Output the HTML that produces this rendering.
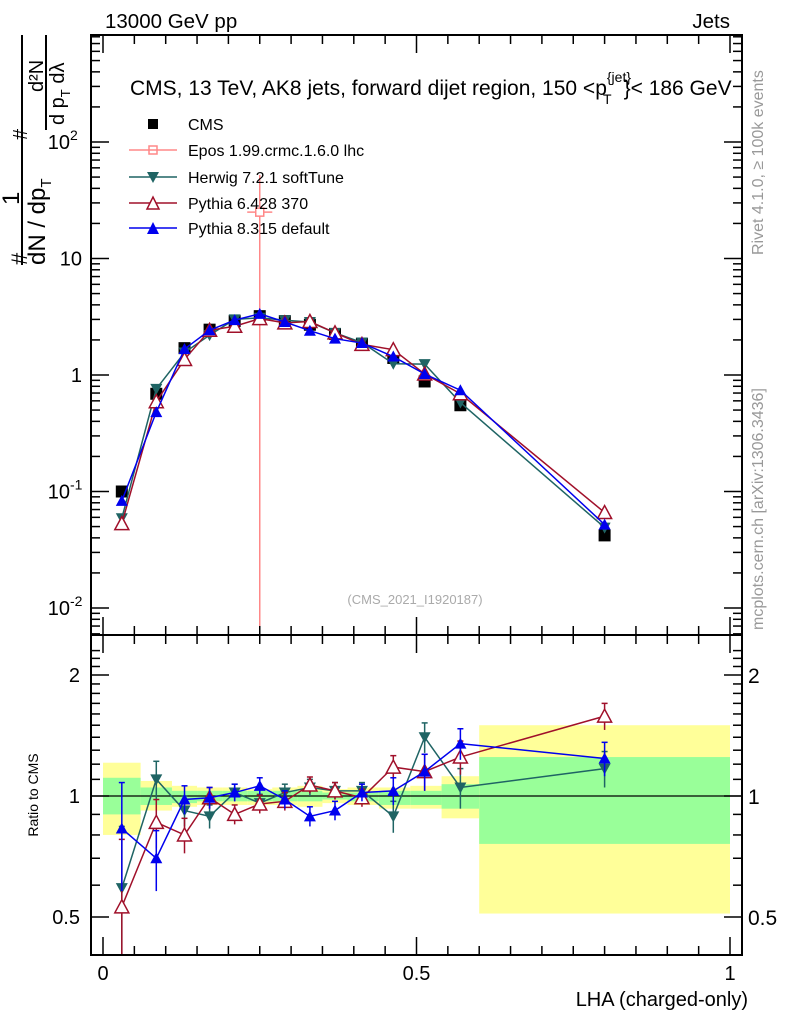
<!DOCTYPE html>
<html><head><meta charset="utf-8"><style>
body{margin:0;background:#fff}
svg text{font-family:"Liberation Sans",sans-serif}
</style></head><body>
<svg id="chart" width="786" height="1024" xmlns="http://www.w3.org/2000/svg">
<g id="bands"></g>
<g id="marks"></g>
<g id="axes"></g>
<text x="105" y="28" font-size="20.5">13000 GeV pp</text>
<text x="730" y="28" font-size="20.5" text-anchor="end">Jets</text>
<text x="130" y="95" font-size="21">CMS, 13 TeV, AK8 jets, forward dijet region, 150 &lt;p<tspan font-size="14" dy="-13">{jet}</tspan><tspan font-size="14" dx="-28" dy="22">T</tspan><tspan dy="-9" dx="12">}&lt; 186 GeV</tspan></text>
<text transform="translate(763,255) rotate(-90)" font-size="16" fill="#999">Rivet 4.1.0, ≥ 100k events</text>
<text transform="translate(763,630) rotate(-90)" font-size="16" fill="#999">mcplots.cern.ch [arXiv:1306.3436]</text>
<text x="415" y="604" font-size="13" fill="#aaa" text-anchor="middle">(CMS_2021_I1920187)</text>
<text x="748" y="1006" font-size="20" text-anchor="end">LHA (charged-only)</text>
<text transform="translate(38,795) rotate(-90)" font-size="14" text-anchor="middle">Ratio to CMS</text>
<g font-size="24">
<line x1="22" y1="35" x2="22" y2="265" stroke="#000" stroke-width="2"/>
<text transform="translate(27,265) rotate(-90)" font-size="22">#</text>
<text transform="translate(19,205) rotate(-90)">1</text>
<text transform="translate(45,265) rotate(-90)">dN / dp<tspan font-size="15" dy="6">T</tspan></text>
<text transform="translate(27,140) rotate(-90)" font-size="20">#</text>
<line x1="46" y1="35" x2="46" y2="130" stroke="#000" stroke-width="2"/>
<text transform="translate(43,92) rotate(-90)" font-size="20">d²N</text>
<text transform="translate(64,125) rotate(-90)" font-size="20">d p<tspan font-size="13" dy="6">T</tspan><tspan dy="-6"> dλ</tspan></text>
</g>
<g font-size="16">
<rect x="148" y="119" width="10" height="10" fill="#000"/>
<text x="188" y="130">CMS</text>
<line x1="129" y1="150" x2="177" y2="150" stroke="#f88" stroke-width="1.5"/>
<rect x="149" y="146" width="8" height="8" fill="none" stroke="#f88" stroke-width="1.5"/>
<text x="188" y="156">Epos 1.99.crmc.1.6.0 lhc</text>
<line x1="129" y1="177" x2="177" y2="177" stroke="#1f6464" stroke-width="1.5"/>
<path d="M147,172 L159,172 L153,183 Z" fill="#1f6464"/>
<text x="188" y="183">Herwig 7.2.1 softTune</text>
<line x1="129" y1="203" x2="177" y2="203" stroke="#a0102a" stroke-width="1.5"/>
<path d="M147,209 L159,209 L153,197 Z" fill="#fff" stroke="#a0102a" stroke-width="1.5"/>
<text x="188" y="209">Pythia 6.428 370</text>
<line x1="129" y1="228" x2="177" y2="228" stroke="#0000ee" stroke-width="1.5"/>
<path d="M147,234 L159,234 L153,222 Z" fill="#0000ee"/>
<text x="188" y="234">Pythia 8.315 default</text>
</g>
</svg>
<script>
const lhaX = [0.03,0.085,0.13,0.17,0.21,0.25,0.29,0.33,0.37,0.413,0.463,0.513,0.57,0.8];
const binEdges = [0,0.06,0.11,0.15,0.19,0.23,0.27,0.31,0.35,0.39,0.44,0.49,0.54,0.6,1.0];
const cmsVals = [0.1,0.69,1.7,2.45,2.9,3.2,2.9,2.7,2.25,1.85,1.4,0.88,0.55,0.042];
const herwigVals = [0.059,0.76,1.56,2.2,3.0,3.1,2.95,2.85,2.3,1.9,1.25,1.24,0.58,0.049];
const py6Vals = [0.053,0.59,1.36,2.42,2.62,3.05,2.8,2.88,2.3,1.83,1.65,1.02,0.69,0.066];
const py8Vals = [0.083,0.48,1.67,2.42,2.96,3.35,2.85,2.4,2.05,1.88,1.44,1.02,0.74,0.052];
const herwigRatio = [0.59,1.10,0.92,0.89,1.02,0.96,1.02,1.05,1.03,1.03,0.89,1.40,1.05,1.17];
const py6Ratio = [0.53,0.86,0.80,0.99,0.90,0.955,0.97,1.065,1.03,0.99,1.18,1.15,1.25,1.58];
const py8Ratio = [0.83,0.70,0.98,0.99,1.02,1.06,0.98,0.89,0.92,1.02,1.03,1.15,1.35,1.24];
const ratioErr = [0.25,0.12,0.08,0.06,0.05,0.05,0.05,0.05,0.05,0.05,0.08,0.12,0.12,0.12];
const yellowUp = [1.21,1.09,1.06,1.05,1.05,1.04,1.05,1.06,1.04,1.05,1.05,1.06,1.12,1.50];
const yellowDn = [0.80,0.92,0.94,0.95,0.95,0.95,0.95,0.94,0.96,0.95,0.93,0.93,0.88,0.51];
const greenUp = [1.11,1.05,1.03,1.03,1.03,1.03,1.03,1.03,1.02,1.02,1.03,1.03,1.07,1.25];
const greenDn = [0.90,0.95,0.96,0.97,0.97,0.97,0.97,0.97,0.98,0.97,0.95,0.95,0.93,0.76];
const eposX = [0.25];
const eposVals = [25];
const yTickVals = [0.01,0.1,1,10,100];
const yTickLabels = ["10","10","1","10","10"];
const yTickExp = ["-2","-1","","","2"];
const ratioTicks = [0.5,1,2];
const ratioTickLabels = ["0.5","1","2"];
const xTicks = [0,0.5,1];
const xTickLabels = ["0","0.5","1"];

const NS="http://www.w3.org/2000/svg";
const L=91,R=742,T=35,MB=635,RB=955;
const X=v=>103+v*627;
const Y=v=>375-Math.log10(v)*116.5;
const YR=v=>796-Math.log2(v)*121;
function mk(p,tag,at){const e=document.createElementNS(NS,tag);for(const k in at)e.setAttribute(k,at[k]);p.appendChild(e);return e;}
const bands=document.getElementById('bands'),marks=document.getElementById('marks'),axes=document.getElementById('axes');
for(let i=0;i<lhaX.length;i++){
  const x0=X(binEdges[i]),x1=X(binEdges[i+1]);
  let r=mk(bands,'rect',{x:x0,y:YR(yellowUp[i]),width:x1-x0,height:YR(yellowDn[i])-YR(yellowUp[i]),fill:'#ffff99'});
  
  
  r=mk(bands,'rect',{x:x0,y:YR(greenUp[i]),width:x1-x0,height:YR(greenDn[i])-YR(greenUp[i]),fill:'#99ff99'});
  
  
}
mk(bands,'line',{x1:L,y1:YR(1),x2:R,y2:YR(1),stroke:'#000','stroke-width':1.2});
const ex=X(eposX[0]);
let ep=mk(marks,'g',{});


mk(ep,'line',{x1:ex,y1:175,x2:ex,y2:MB,stroke:'#f88','stroke-width':1.5});
mk(ep,'line',{x1:X(0.23),y1:Y(eposVals[0]),x2:X(0.27),y2:Y(eposVals[0]),stroke:'#f88','stroke-width':1.5});
mk(ep,'rect',{x:ex-4,y:Y(eposVals[0])-4,width:8,height:8,fill:'#fff',stroke:'#f88','stroke-width':1.5});
function marker(g,type,x,y,c){
  if(type==='sq')mk(g,'rect',{x:x-6,y:y-6,width:12,height:12,fill:c});
  else if(type==='dn')mk(g,'path',{d:`M${x-6},${y-5}L${x+6},${y-5}L${x},${y+6}Z`,fill:c});
  else if(type==='up')mk(g,'path',{d:`M${x-6},${y+5}L${x+6},${y+5}L${x},${y-6}Z`,fill:c});
  else mk(g,'path',{d:`M${x-7},${y+6}L${x+7},${y+6}L${x},${y-7}Z`,fill:'#fff',stroke:c,'stroke-width':1.5});
}
function series(name,vals,ratio,type,c,line){
  const g=mk(marks,'g',{});
  
  
  if(line){mk(g,'polyline',{points:lhaX.map((x,i)=>X(x)+','+Y(vals[i])).join(' '),fill:'none',stroke:c,'stroke-width':1.5});}
  lhaX.forEach((x,i)=>{marker(g,type,X(x),Y(vals[i]),c);});
  if(ratio){
    mk(g,'polyline',{points:lhaX.map((x,i)=>X(x)+','+YR(ratio[i])).join(' '),fill:'none',stroke:c,'stroke-width':1.5});
    lhaX.forEach((x,i)=>{
      const r=ratio[i],e=ratioErr[i];
      mk(g,'line',{x1:X(x),y1:YR(r+e),x2:X(x),y2:Math.min(RB,YR(Math.max(0.3,r-e))),stroke:c,'stroke-width':1.5});
      mk(g,'line',{x1:X(x)-3,y1:YR(r+e),x2:X(x)+3,y2:YR(r+e),stroke:c,'stroke-width':1.5});
      marker(g,type,X(x),YR(r),c);
    });
  }
}
series('cms',cmsVals,null,'sq','#000',false);
series('herwig',herwigVals,herwigRatio,'dn','#1f6464',true);
series('pythia6',py6Vals,py6Ratio,'open','#a0102a',true);
series('pythia8',py8Vals,py8Ratio,'up','#0000ee',true);
mk(axes,'rect',{x:L,y:T,width:R-L,height:MB-T,fill:'none',stroke:'#000','stroke-width':2});
mk(axes,'rect',{x:L,y:MB,width:R-L,height:RB-MB,fill:'none',stroke:'#000','stroke-width':2});
for(let d=-3;d<=2;d++)for(let m=1;m<10;m++){const v=m*Math.pow(10,d),y=Y(v);if(y<T||y>MB)continue;const len=m===1?18:9;
 mk(axes,'line',{x1:L,y1:y,x2:L+len,y2:y,stroke:'#000','stroke-width':1.5});mk(axes,'line',{x1:R,y1:y,x2:R-len,y2:y,stroke:'#000','stroke-width':1.5});}
yTickVals.forEach((v,i)=>{const t=mk(axes,'text',{x:yTickExp[i]?70:82,y:Y(v)+7,'font-size':20,'text-anchor':'end'});t.textContent=yTickLabels[i];
 
 
 if(yTickExp[i]){const s=mk(axes,'text',{x:70,y:Y(v)-2,'font-size':14});s.textContent=yTickExp[i];}});
for(let v=0.4;v<=2.4;v+=0.1){const y=YR(v);if(y<MB||y>RB)continue;const major=[0.5,1,2].some(a=>Math.abs(a-v)<1e-6);const len=major?18:9;
 mk(axes,'line',{x1:L,y1:y,x2:L+len,y2:y,stroke:'#000','stroke-width':1.5});mk(axes,'line',{x1:R,y1:y,x2:R-len,y2:y,stroke:'#000','stroke-width':1.5});}
ratioTicks.forEach((v,i)=>{let t=mk(axes,'text',{x:80,y:YR(v)+7,'font-size':20,'text-anchor':'end'});t.textContent=ratioTickLabels[i];
 
 
 t=mk(axes,'text',{x:748,y:YR(v)+8,'font-size':21});t.textContent=ratioTickLabels[i];});
for(let v=0;v<=1.0001;v+=0.05){const x=X(v);const major=Math.abs(v*10-Math.round(v*10))<1e-6&&Math.round(v*10)%5===0;const len=major?18:9;
 [T,MB].forEach(y0=>mk(axes,'line',{x1:x,y1:y0,x2:x,y2:y0+len,stroke:'#000','stroke-width':1.5}));
 [MB,RB].forEach(y0=>mk(axes,'line',{x1:x,y1:y0,x2:x,y2:y0-len,stroke:'#000','stroke-width':1.5}));}
xTicks.forEach((v,i)=>{const t=mk(axes,'text',{x:X(v),y:980,'font-size':20,'text-anchor':'middle'});t.textContent=xTickLabels[i];
 
 });
</script>
</body></html>
